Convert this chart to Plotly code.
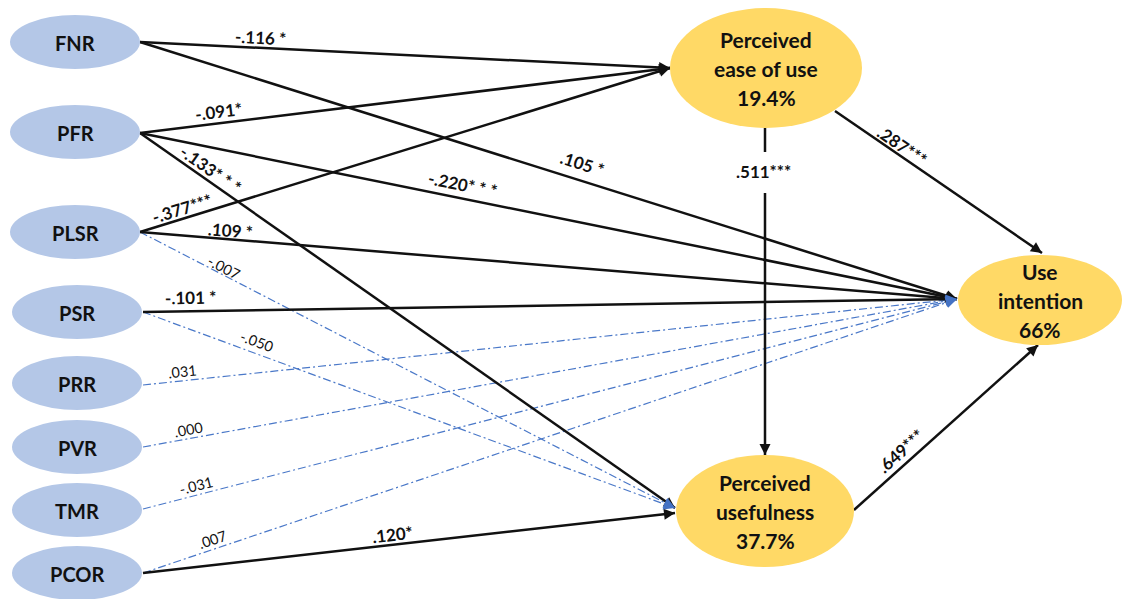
import math
import plotly.graph_objects as go

# ---------------- model data ----------------
constructs = ["FNR", "PFR", "PLSR", "PSR", "PRR", "PVR", "TMR", "PCOR"]
outcomes = ["PEOU", "PU", "UI"]
outcome_titles = [["Perceived", "ease of use"], ["Perceived", "usefulness"], ["Use", "intention"]]
r_squared = [19.4, 37.7, 66.0]

path_from = ["FNR", "FNR", "PFR", "PFR", "PFR", "PLSR", "PLSR", "PLSR", "PSR",
             "PSR", "PRR", "PVR", "TMR", "PCOR", "PCOR", "PEOU", "PEOU", "PU"]
path_to = ["PEOU", "UI", "PEOU", "UI", "PU", "PEOU", "UI", "PU", "UI",
           "PU", "UI", "UI", "UI", "UI", "PU", "PU", "UI", "UI"]
path_coef = [-0.116, 0.105, -0.091, -0.220, -0.133, -0.377, 0.109, -0.007, -0.101,
             -0.050, 0.031, 0.000, -0.031, 0.007, 0.120, 0.511, 0.287, 0.649]
path_sig = [" *", " *", "*", "* * *", "* * *", "***", " *", "", " *",
            "", "", "", "", "", "*", "***", "***", "***"]

# ---------------- diagram geometry (pixels, y downward) ----------------
W, H = 1125, 599
node_center = {
    "FNR": (75, 42), "PFR": (75, 132), "PLSR": (75, 232), "PSR": (77, 312),
    "PRR": (77, 383), "PVR": (77, 447), "TMR": (77, 510), "PCOR": (77, 573),
    "PEOU": (766, 68), "PU": (765, 511), "UI": (1040, 300),
}
node_radius = {"PEOU": (96, 60), "PU": (89, 56), "UI": (82, 45)}
left_radius = (65, 27)

# start point, end point, label centre for each path
edge_geom = {
    ("FNR", "PEOU"): ((140, 42), (670, 68), (260, 37)),
    ("FNR", "UI"): ((140, 42), (957, 299), (582, 163)),
    ("PFR", "PEOU"): ((140, 133), (670, 68), (218, 111)),
    ("PFR", "UI"): ((140, 133), (957, 299), (463, 184)),
    ("PFR", "PU"): ((140, 133), (675, 508), (211, 169)),
    ("PLSR", "PEOU"): ((140, 232), (670, 68), (182, 208)),
    ("PLSR", "UI"): ((140, 232), (957, 299), (230, 230)),
    ("PLSR", "PU"): ((140, 232), (675, 508), (224, 267)),
    ("PSR", "UI"): ((143, 312), (957, 299), (190, 297)),
    ("PSR", "PU"): ((143, 312), (675, 508), (257, 341)),
    ("PRR", "UI"): ((143, 385), (957, 299), (182, 371)),
    ("PVR", "UI"): ((143, 447), (957, 299), (188, 429)),
    ("TMR", "UI"): ((143, 509), (957, 299), (196, 485)),
    ("PCOR", "UI"): ((143, 573), (957, 299), (212, 539)),
    ("PCOR", "PU"): ((143, 573), (675, 513), (392, 534)),
    ("PEOU", "PU"): ((765, 128), (765, 455), (763, 171)),
    ("PEOU", "UI"): ((835, 111), (1042, 253), (902, 145)),
    ("PU", "UI"): ((854, 510), (1038, 345), (900, 451)),
}

BLUE_FILL = "#b4c7e7"
GOLD_FILL = "#ffd966"
INK = "#111111"
DASH_BLUE = "#4a78c8"
FONT = "Lato"


def fmt_coef(v):
    s = f"{v:.3f}"
    return s.replace("0.", ".", 1)


fig = go.Figure()
shapes = []
annotations = []

# ---- paths ----
solid_x, solid_y, dash_x, dash_y = [], [], [], []
for src, dst, coef, sig in zip(path_from, path_to, path_coef, path_sig):
    (x0, y0), (x1, y1), (lx, ly) = edge_geom[(src, dst)]
    significant = sig != ""
    if src == "PEOU" and dst == "PU":
        # vertical path interrupted around its coefficient
        xs, ys = [x0, x0, None, x1, x1, None], [y0, 152, None, 193, y1, None]
    else:
        xs, ys = [x0, x1, None], [y0, y1, None]
    if significant:
        solid_x += xs
        solid_y += ys
    else:
        dash_x += xs
        dash_y += ys

    ang = math.degrees(math.atan2(y1 - y0, x1 - x0))
    if src == "PEOU" and dst == "PU":
        ang = 0
    label = fmt_coef(coef) + sig
    annotations.append(dict(
        x=lx, y=ly, xref="x", yref="y", text=f"<b>{label}</b>" if significant else label,
        showarrow=False, textangle=ang,
        font=dict(family=FONT, size=17 if significant else 14.5, color=INK),
    ))

fig.add_trace(go.Scatter(x=dash_x, y=dash_y, mode="lines", hoverinfo="skip",
                         line=dict(color=DASH_BLUE, width=1.2, dash="8px,3px,2px,3px")))
fig.add_trace(go.Scatter(x=solid_x, y=solid_y, mode="lines", hoverinfo="skip",
                         line=dict(color=INK, width=2.5)))

# ---- arrowheads ----
heads = []
for src, dst, sig in zip(path_from, path_to, path_sig):
    (x0, y0), (x1, y1), _ = edge_geom[(src, dst)]
    heads.append((sig != "", x0, y0, x1, y1))
heads.sort(key=lambda h: h[0], reverse=True)  # dashed heads drawn last
for significant, x0, y0, x1, y1 in heads:
    L = math.hypot(x1 - x0, y1 - y0)
    back = 6
    ax = x1 - (x1 - x0) / L * back
    ay = y1 - (y1 - y0) / L * back
    annotations.append(dict(
        x=x1, y=y1, ax=ax, ay=ay, xref="x", yref="y", axref="x", ayref="y",
        text="", showarrow=True, arrowhead=2, standoff=0,
        arrowwidth=2.0 if significant else 1.4,
        arrowsize=1.1 if significant else 1.6,
        arrowcolor=INK if significant else "#4472c4",
    ))

# ---- nodes ----
for name in constructs:
    cx, cy = node_center[name]
    rx, ry = left_radius
    shapes.append(dict(type="circle", xref="x", yref="y", x0=cx - rx, x1=cx + rx,
                       y0=cy - ry, y1=cy + ry, fillcolor=BLUE_FILL, line=dict(width=0),
                       layer="above"))
    annotations.append(dict(x=cx, y=cy + 1, xref="x", yref="y", text=f"<b>{name}</b>",
                            showarrow=False, font=dict(family=FONT, size=20, color=INK)))

for name, title, r2 in zip(outcomes, outcome_titles, r_squared):
    cx, cy = node_center[name]
    rx, ry = node_radius[name]
    shapes.append(dict(type="circle", xref="x", yref="y", x0=cx - rx, x1=cx + rx,
                       y0=cy - ry, y1=cy + ry, fillcolor=GOLD_FILL, line=dict(width=0),
                       layer="above"))
    lines = title + [f"{r2:g}%"]
    for i, txt in enumerate(lines):
        annotations.append(dict(x=cx, y=cy + (i - 1) * 29, xref="x", yref="y",
                                text=f"<b>{txt}</b>", showarrow=False,
                                font=dict(family=FONT, size=21, color=INK)))

fig.update_layout(
    width=W, height=H, margin=dict(l=0, r=0, t=0, b=0),
    paper_bgcolor="white", plot_bgcolor="white", showlegend=False,
    xaxis=dict(range=[0, W], visible=False, fixedrange=True),
    yaxis=dict(range=[H, 0], visible=False, fixedrange=True),
    shapes=shapes, annotations=annotations,
)

fig.write_html("out.html")
